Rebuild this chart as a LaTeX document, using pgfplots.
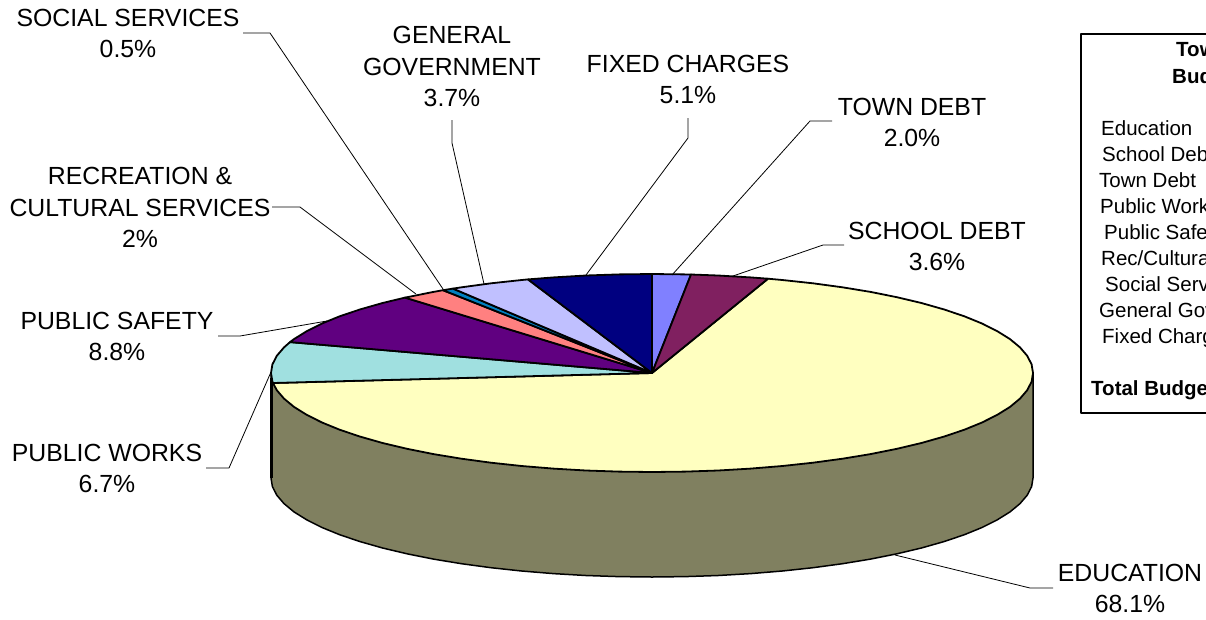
\documentclass[border=0pt]{standalone}
\usepackage{pgfplots}
\pgfplotsset{compat=1.18}
\usepackage{fontspec}
\setmainfont{Liberation Sans}
\definecolor{edu}{RGB}{255,255,192}
\definecolor{wall}{RGB}{128,128,96}
\definecolor{works}{RGB}{160,224,224}
\definecolor{safety}{RGB}{96,0,128}
\definecolor{rec}{RGB}{255,128,128}
\definecolor{social}{RGB}{0,128,192}
\definecolor{gengov}{RGB}{192,192,255}
\definecolor{fixed}{RGB}{0,0,128}
\definecolor{town}{RGB}{128,128,255}
\definecolor{school}{RGB}{128,32,96}
\newcommand{\lab}{\fontsize{24.8}{31.5}\selectfont}
\newcommand{\tb}{\fontsize{20.5}{26}\selectfont}
\begin{document}
\begin{tikzpicture}
\useasboundingbox (0,0) rectangle (1206pt,619pt);
\clip (0,0) rectangle (1206pt,619pt);
\begin{axis}[
  at={(0,0)}, anchor=south west,
  width=1206pt, height=619pt, scale only axis,
  xmin=0, xmax=1206, ymin=0, ymax=619, y dir=reverse,
  hide axis, clip=false, no markers,
  every axis plot/.append style={line join=round},
  wedge/.style={draw=black, line width=1.8pt, fill=#1},
  leader/.style={draw=black, line width=0.8pt},
]
% side wall
\addplot[wedge=wall, line width=1.5pt] coordinates {(1033,373)(1033,478)(1031.6,486.6)(1027.2,495.2)(1020,503.6)(1010,511.9)(997.3,519.8)(982,527.5)(964.1,534.8)(943.9,541.6)(921.4,548)(896.9,553.8)(870.5,559.1)(842.5,563.7)(813,567.7)(782.3,571)(750.6,573.6)(718.1,575.5)(685.2,576.6)(652,577)(618.8,576.6)(585.9,575.5)(553.4,573.6)(521.7,571)(491,567.7)(461.5,563.7)(433.5,559.1)(407.1,553.8)(382.6,548)(360.1,541.6)(339.9,534.8)(322,527.5)(306.7,519.8)(294,511.9)(284,503.6)(276.8,495.2)(272.4,486.6)(271,478)(271,373)} --cycle;
\addplot[draw=black, line width=3pt] coordinates {(271,378)(271,478)};
% top of the pie
\addplot[wedge=edu] coordinates {(652,373)(768,278.7)(782.3,280)(813,283.3)(842.5,287.3)(870.5,291.9)(896.9,297.2)(921.4,303)(943.9,309.4)(964.1,316.2)(982,323.5)(997.3,331.2)(1010,339.1)(1020,347.4)(1027.2,355.8)(1031.6,364.4)(1033,373)(1031.6,381.6)(1027.2,390.2)(1020,398.6)(1010,406.9)(997.3,414.8)(982,422.5)(964.1,429.8)(943.9,436.6)(921.4,443)(896.9,448.8)(870.5,454.1)(842.5,458.7)(813,462.7)(782.3,466)(750.6,468.6)(718.1,470.5)(685.2,471.6)(652,472)(618.8,471.6)(585.9,470.5)(553.4,468.6)(521.7,466)(491,462.7)(461.5,458.7)(433.5,454.1)(407.1,448.8)(382.6,443)(360.1,436.6)(339.9,429.8)(322,422.5)(306.7,414.8)(294,406.9)(284,398.6)(276.8,390.2)(273,383)} --cycle;
\addplot[wedge=works] coordinates {(652,373)(273,383)(272.4,381.6)(271,373)(272.4,364.4)(276.8,355.8)(284,347.4)(290,342.1)} --cycle;
\addplot[wedge=safety] coordinates {(652,373)(290,342.1)(294,339.1)(306.7,331.2)(322,323.5)(339.9,316.2)(360.1,309.4)(382.6,303)(405,297.6)} --cycle;
\addplot[wedge=rec] coordinates {(652,373)(405,297.6)(407.1,297.2)(433.5,291.9)(443,290.2)} --cycle;
\addplot[wedge=social] coordinates {(652,373)(443,290.2)(453,288.6)} --cycle;
\addplot[wedge=gengov] coordinates {(652,373)(453,288.6)(461.5,287.3)(491,283.3)(521.7,280)(528,279.4)} --cycle;
\addplot[wedge=fixed] coordinates {(652,373)(528,279.4)(553.4,277.4)(585.9,275.5)(618.8,274.4)(652,274)} --cycle;
\addplot[wedge=town] coordinates {(652,373)(652,274)(685.2,274.4)(691,274.5)} --cycle;
\addplot[wedge=school] coordinates {(652,373)(691,274.5)(718.1,275.5)(750.6,277.4)(768,278.7)} --cycle;
% leader lines
\addplot[leader] coordinates {(243,33)(270,33)(443,289)};
\addplot[leader] coordinates {(452,120)(452,143)(484,284)};
\addplot[leader] coordinates {(688,118)(688,138)(586,275)};
\addplot[leader] coordinates {(832,121)(810,121)(672,275)};
\addplot[leader] coordinates {(844,245)(823,245)(733,276)};
\addplot[leader] coordinates {(272,207)(300,207)(416,294)};
\addplot[leader] coordinates {(218,336)(240,336)(327,321)};
\addplot[leader] coordinates {(206,468)(229,468)(271,372)};
\addplot[leader] coordinates {(895,555)(1030,588)(1053,588)};
% legend box
\addplot[draw=black, line width=1.5pt] coordinates {(1220,34)(1081,34)(1081,413)(1220,413)};
% labels
\path (axis cs:128,33.5) node[align=center,font=\lab,inner sep=0pt] {SOCIAL SERVICES\\0.5\%};
\path (axis cs:452,66.5) node[align=center,font=\lab,inner sep=0pt] {GENERAL\\GOVERNMENT\\3.7\%};
\path (axis cs:688,79.5) node[align=center,font=\lab,inner sep=0pt] {FIXED CHARGES\\5.1\%};
\path (axis cs:912,122.5) node[align=center,font=\lab,inner sep=0pt] {TOWN DEBT\\2.0\%};
\path (axis cs:937,246.5) node[align=center,font=\lab,inner sep=0pt] {SCHOOL DEBT\\3.6\%};
\path (axis cs:140,207.5) node[align=center,font=\lab,inner sep=0pt] {RECREATION \&\\CULTURAL SERVICES\\2\%};
\path (axis cs:117,336.5) node[align=center,font=\lab,inner sep=0pt] {PUBLIC SAFETY\\8.8\%};
\path (axis cs:107,468.5) node[align=center,font=\lab,inner sep=0pt] {PUBLIC WORKS\\6.7\%};
\path (axis cs:1130,588.5) node[align=center,font=\lab,inner sep=0pt] {EDUCATION\\68.1\%};
% legend text, cut by the page edge as in the reference
\path (axis cs:1176,56) node[anchor=base west,font=\tb\bfseries,inner sep=0pt] {Town};
\path (axis cs:1172,83) node[anchor=base west,font=\tb\bfseries,inner sep=0pt] {Budget};
\path (axis cs:1101,135) node[anchor=base west,font=\tb,inner sep=0pt] {Education};
\path (axis cs:1102,161) node[anchor=base west,font=\tb,inner sep=0pt] {School Debt};
\path (axis cs:1099,187) node[anchor=base west,font=\tb,inner sep=0pt] {Town Debt};
\path (axis cs:1100,213) node[anchor=base west,font=\tb,inner sep=0pt] {Public Works};
\path (axis cs:1104,239) node[anchor=base west,font=\tb,inner sep=0pt] {Public Safety};
\path (axis cs:1101,265) node[anchor=base west,font=\tb,inner sep=0pt] {Rec/Cultural};
\path (axis cs:1105,291) node[anchor=base west,font=\tb,inner sep=0pt] {Social Services};
\path (axis cs:1099,317) node[anchor=base west,font=\tb,inner sep=0pt] {General Government};
\path (axis cs:1102,343) node[anchor=base west,font=\tb,inner sep=0pt] {Fixed Charges};
\path (axis cs:1091,395) node[anchor=base west,font=\tb\bfseries,inner sep=0pt] {Total Budget};
\end{axis}
\end{tikzpicture}
\end{document}
